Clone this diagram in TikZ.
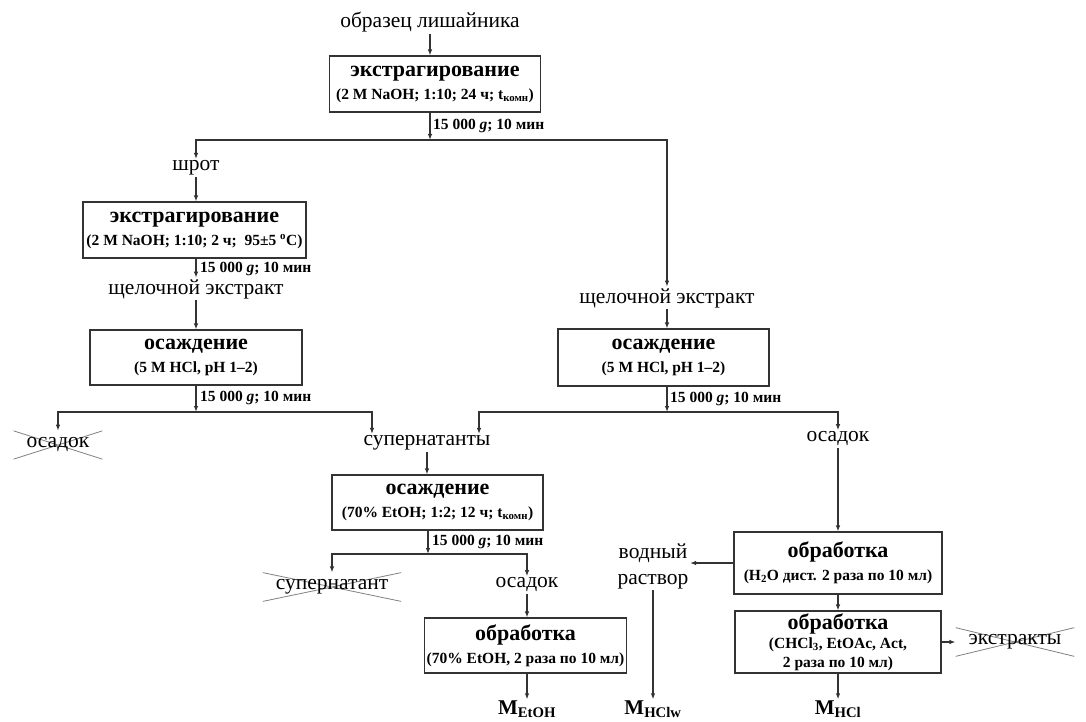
\documentclass[tikz,border=0pt]{standalone}
\usepackage{fontspec}
\setmainfont{Liberation Serif}
\usetikzlibrary{arrows.meta}
\newcommand{\boxtitle}[1]{{\fontsize{22}{23}\selectfont\bfseries #1}}
\newcommand{\boxnote}[1]{{\fontsize{15.5}{23}\selectfont\bfseries #1}}
\begin{document}
\begin{tikzpicture}[x=1pt, y=-1pt,
    box/.style={draw=black!80, line width=1.1pt, align=center, inner sep=2pt,
      font=\fontsize{15.5}{23}\selectfont},
    lbl/.style={font=\fontsize{21.5}{26}\selectfont, inner sep=1.5pt},
    cf/.style={font=\fontsize{15.5}{18}\selectfont\bfseries, anchor=west, inner sep=0pt},
    arr/.style={draw=black!80, line width=1.1pt, -{Latex[length=6pt,width=4.5pt]}},
    crossed/.style={inner xsep=13pt, inner ysep=7pt, path picture={
      \draw[black!50, line width=0.8pt]
        (path picture bounding box.north west) -- (path picture bounding box.south east)
        (path picture bounding box.south west) -- (path picture bounding box.north east);}},
    res/.style={font=\fontsize{21}{24}\selectfont\bfseries, inner sep=1pt}]
  \useasboundingbox (0,0) rectangle (1086,722);

  \node[lbl] (lich) at (430,22) {образец лишайника};
  \node[box, minimum width=211pt, minimum height=56pt] (ex1) at (435,84)
    {\boxtitle{экстрагирование}\\\boxnote{(2 M NaOH; 1:10; 24 ч; t\textsubscript{комн})}};
  \node[cf] (cf1) at (433,126) {15 000 \textit{g}; 10 мин};
  \coordinate (s1) at (430,140);

  \node[lbl] (shrot) at (196,168) {шрот};
  \node[box, minimum width=223pt, minimum height=56pt] (ex2) at (194.5,230)
    {\boxtitle{экстрагирование}\\\boxnote{(2 M NaOH; 1:10; 2 ч;\ \ 95±5 \textsuperscript{o}C)}};
  \node[cf] (cf2) at (200,269) {15 000 \textit{g}; 10 мин};
  \node[lbl] (alkL) at (196,289) {щелочной экстракт};
  \node[box, minimum width=212pt, minimum height=55pt] (pr1) at (196,357.5)
    {\boxtitle{осаждение}\\\boxnote{(5 M HCl, pH 1–2)}};
  \node[cf] (cf3) at (200,398) {15 000 \textit{g}; 10 мин};
  \coordinate (s3) at (196,412);
  \coordinate (s3r) at (372,412);
  \node[lbl, crossed] (sed1) at (58,445) {осадок};
  \node[lbl] (sup) at (427,443) {супернатанты};

  \node[lbl] (alkR) at (667,298) {щелочной экстракт};
  \node[box, minimum width=211pt, minimum height=57pt] (pr2) at (663.5,357.5)
    {\boxtitle{осаждение}\\\boxnote{(5 M HCl, pH 1–2)}};
  \node[cf] (cf4) at (670,399) {15 000 \textit{g}; 10 мин};
  \coordinate (s4) at (667,412);
  \coordinate (s4l) at (479,412);

  \node[box, minimum width=211pt, minimum height=55pt] (pr3) at (437.5,502.5)
    {\boxtitle{осаждение}\\\boxnote{(70\% EtOH; 1:2; 12 ч; t\textsubscript{комн})}};
  \node[cf] (cf5) at (432,542) {15 000 \textit{g}; 10 мин};
  \coordinate (s5) at (428,554);
  \node[lbl, crossed] (sup2) at (332,587) {супернатант};
  \node[lbl] (sed2) at (527,585) {осадок};
  \node[box, minimum width=197pt, minimum height=55pt] (ob1) at (525.5,645.5)
    {\boxtitle{обработка}\\\boxnote{(70\% EtOH, 2 раза по 10 мл)}};
  \node[res] (mEtOH) at (527,709) {M\textsubscript{EtOH}};

  \node[lbl] (sed3) at (838,439) {осадок};
  \node[box, minimum width=208pt, minimum height=62pt] (ob2) at (838,563)
    {\boxtitle{обработка}\\\boxnote{(H\textsubscript{2}O дист. 2 раза по 10 мл)}};
  \node[lbl, align=center] (wat) at (653,566) {водный\\раствор};
  \node[res] (mHClw) at (653,709) {M\textsubscript{HClw}};
  \node[box, minimum width=206pt, minimum height=62pt, inner sep=1pt] (ob3) at (838,642)
    {\boxtitle{обработка}\\[-4pt]\boxnote{(CHCl\textsubscript{3}, EtOAc, Act,}\\[-4pt]\boxnote{2 раза по 10 мл)}};
  \node[lbl, crossed] (extr) at (1015,642) {экстракты};
  \node[res] (mHCl) at (838,709) {M\textsubscript{HCl}};

  \draw[arr] (lich.south) -- (lich.south |- ex1.north);
  \draw[arr] (ex1.south -| s1) -- (s1);
  \draw[arr] (s1) -| (shrot.north);
  \draw[arr] (s1) -| (alkR.north);
  \draw[arr] (shrot.south) -- (shrot.south |- ex2.north);
  \draw[arr] (ex2.south -| alkL) -- (alkL.north);
  \draw[arr] (alkL.south) -- (alkL.south |- pr1.north);
  \draw[arr] (pr1.south -| s3) -- (s3);
  \draw[arr] (s3) -| (sed1.north);
  \draw[arr] (s3) -- (s3r) -- (s3r |- sup.north);
  \draw[arr] (alkR.south) -- (alkR.south |- pr2.north);
  \draw[arr] (pr2.south -| s4) -- (s4);
  \draw[arr] (s4) -- (s4l) -- (s4l |- sup.north);
  \draw[arr] (s4) -| (sed3.north);
  \draw[arr] (sup.south) -- (sup.south |- pr3.north);
  \draw[arr] (pr3.south -| s5) -- (s5);
  \draw[arr] (s5) -| (sup2.north);
  \draw[arr] (s5) -| (sed2.north);
  \draw[arr] (sed2.south) -- (sed2.south |- ob1.north);
  \draw[arr] (ob1.south -| mEtOH) -- (mEtOH.north);
  \draw[arr] (sed3.south) -- (sed3.south |- ob2.north);
  \draw[arr] (ob2.west) -- (ob2.west -| wat.east);
  \draw[arr] (wat.south) -- (mHClw.north);
  \draw[arr] (ob2.south) -- (ob3.north);
  \draw[arr] (ob3.east) -- (ob3.east -| extr.west);
  \draw[arr] (ob3.south) -- (mHCl.north);
\end{tikzpicture}
\end{document}
